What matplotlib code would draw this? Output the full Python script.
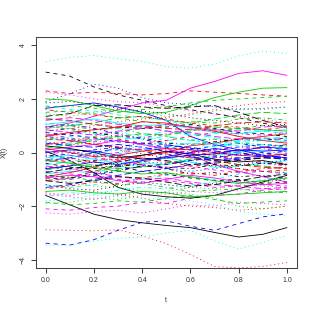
import matplotlib
matplotlib.use("Agg")
import matplotlib.pyplot as plt
import numpy as np

# grid of t values the curves were read at
t = [0.0, 0.1, 0.2, 0.3, 0.4, 0.5, 0.6, 0.7, 0.8, 0.9, 1.0]

# X(t) for each curve, in matplot column order (colour cycles every 6, line type every 5)
curves = [
    [-1.6, -1.95, -2.3, -2.5, -2.62, -2.72, -2.8, -2.98, -3.15, -3.05, -2.8],
    [2.3, 2.2, 2.25, 2.2, 2.15, 2.2, 2.3, 2.25, 2.2, 2.15, 2.1],
    [-1.9, -1.85, -1.7, -1.75, -1.6, -1.45, -1.3, -1.35, -1.2, -1.25, -1.3],
    [0.6, 0.5, 0.3, 0.2, 0.05, -0.1, -0.2, -0.15, -0.25, -0.1, -0.05],
    [0.2, 0.35, 0.5, 0.45, 0.6, 0.8, 0.7, 0.55, 0.4, 0.5, 0.6],
    [0.95, 1.1, 1.35, 1.6, 1.85, 1.95, 2.4, 2.65, 2.95, 3.05, 2.88],
    [3.0, 2.85, 2.45, 2.15, 1.95, 1.75, 1.6, 1.45, 1.3, 1.1, 0.9],
    [-2.88, -2.9, -2.92, -2.88, -3.1, -3.4, -3.8, -4.25, -4.3, -4.25, -4.1],
    [1.1, 1.0, 0.85, 0.9, 0.7, 0.6, 0.45, 0.5, 0.35, 0.3, 0.2],
    [-0.3, -0.2, 0.0, 0.15, 0.1, 0.25, 0.2, 0.05, 0.0, -0.15, -0.2],
    [-0.8, -0.7, -0.75, -0.55, -0.4, -0.45, -0.3, -0.1, 0.0, 0.1, 0.05],
    [-2.1, -2.15, -2.05, -2.0, -1.85, -1.9, -1.7, -1.6, -1.55, -1.4, -1.35],
    [0.4, 0.3, 0.35, 0.1, -0.05, -0.2, -0.35, -0.5, -0.6, -0.7, -0.75],
    [-0.6, -0.45, -0.3, -0.25, -0.15, 0.0, 0.05, -0.1, -0.2, -0.35, -0.4],
    [0.9, 1.0, 1.1, 1.3, 1.35, 1.2, 1.1, 1.25, 1.4, 1.5, 1.45],
    [1.65, 1.75, 1.85, 1.7, 1.5, 1.2, 0.6, 0.3, 0.1, -0.1, -0.2],
    [-1.2, -1.3, -1.2, -1.05, -1.0, -0.85, -0.9, -1.0, -0.8, -0.7, -0.75],
    [2.25, 2.15, 2.0, 1.9, 1.85, 1.7, 1.55, 1.45, 1.35, 1.25, 1.1],
    [-0.1, -0.2, -0.35, -0.5, -0.45, -0.6, -0.8, -0.75, -0.9, -0.85, -0.95],
    [-1.05, -0.95, -0.7, -0.5, -0.35, -0.2, -0.1, -0.05, 0.1, 0.2, 0.3],
    [2.0, 1.95, 1.75, 1.55, 1.45, 1.5, 1.75, 2.05, 2.25, 2.4, 2.42],
    [-3.38, -3.45, -3.25, -2.9, -2.6, -2.55, -2.75, -2.9, -2.65, -2.4, -2.28],
    [3.38, 3.55, 3.62, 3.5, 3.4, 3.2, 3.15, 3.3, 3.6, 3.78, 3.7],
    [0.7, 0.55, 0.4, 0.45, 0.3, 0.1, 0.0, -0.15, -0.3, -0.4, -0.5],
    [1.35, 1.45, 1.75, 1.78, 1.7, 1.65, 1.7, 1.75, 1.5, 1.2, 0.95],
    [-0.9, -0.75, -0.55, -0.3, -0.1, 0.0, 0.25, 0.35, 0.5, 0.6, 0.7],
    [-1.85, -1.95, -1.9, -1.8, -1.85, -1.7, -1.6, -1.75, -1.9, -1.85, -1.8],
    [1.9, 2.2, 2.55, 2.4, 2.05, 1.85, 1.8, 1.7, 1.6, 1.65, 1.7],
    [1.0, 0.85, 0.7, 0.75, 0.6, 0.45, 0.5, 0.35, 0.25, 0.3, 0.15],
    [-0.5, -0.6, -0.75, -0.9, -1.0, -0.95, -1.1, -1.2, -1.25, -1.35, -1.3],
    [0.05, -0.3, -0.75, -1.3, -1.55, -1.65, -1.7, -1.6, -1.35, -1.1, -0.85],
    [0.3, 0.4, 0.55, 0.5, 0.35, 0.45, 0.6, 0.75, 0.9, 0.85, 0.95],
    [-1.0, -1.1, -1.25, -1.3, -1.45, -1.5, -1.55, -1.7, -2.0, -2.1, -2.0],
    [-0.15, -0.05, 0.1, 0.2, 0.35, 0.3, 0.15, 0.1, 0.2, 0.3, 0.25],
    [1.3, 1.15, 1.05, 0.9, 0.95, 0.8, 0.65, 0.7, 0.85, 0.8, 0.7],
    [0.1, 0.2, 0.3, 0.45, 0.3, 0.15, -0.1, -0.45, -0.7, -0.9, -1.1],
    [-0.4, -0.55, -0.6, -0.5, -0.7, -0.8, -0.95, -1.05, -1.0, -1.15, -1.1],
    [-1.5, -1.6, -1.45, -1.55, -1.7, -1.9, -2.0, -2.05, -2.15, -2.1, -2.0],
    [0.55, 0.45, 0.6, 0.75, 0.9, 1.0, 1.15, 1.1, 1.25, 1.3, 1.2],
    [-1.3, -1.2, -1.0, -0.85, -0.7, -0.6, -0.45, -0.35, -0.25, -0.2, -0.1],
    [-0.2, -0.1, -0.25, -0.4, -0.3, -0.2, -0.35, -0.55, -0.5, -0.4, -0.3],
    [-0.7, -0.8, -0.85, -1.0, -1.1, -1.05, -1.15, -1.3, -1.25, -1.2, -1.25],
    [-1.2, -1.35, -1.4, -1.25, -1.1, -1.2, -1.3, -1.15, -1.05, -1.1, -1.0],
    [1.6, 1.5, 1.4, 1.3, 1.35, 1.25, 1.1, 1.0, 0.95, 0.85, 0.8],
    [-0.65, -0.5, -0.45, -0.6, -0.55, -0.4, -0.25, -0.3, -0.45, -0.5, -0.6],
    [0.0, 0.1, 0.05, -0.1, -0.25, -0.2, -0.1, -0.05, 0.1, 0.05, 0.1],
    [1.75, 1.6, 1.55, 1.4, 1.3, 1.2, 1.0, 0.85, 0.6, 0.5, 0.4],
    [-2.25, -2.3, -2.2, -2.15, -2.25, -2.1, -1.95, -2.0, -1.85, -1.9, -1.95],
    [0.8, 0.9, 0.75, 0.6, 0.55, 0.35, 0.3, 0.4, 0.5, 0.45, 0.55],
    [0.5, 0.45, 0.3, 0.2, 0.1, -0.05, -0.2, -0.3, -0.45, -0.55, -0.6],
    [-1.45, -1.4, -1.5, -1.55, -1.45, -1.5, -1.65, -1.6, -1.55, -1.5, -1.45],
    [-0.95, -1.0, -0.85, -0.7, -0.5, -0.45, -0.3, -0.2, -0.05, 0.0, -0.1],
    [-3.45, -3.45, -3.3, -3.2, -3.15, -3.0, -2.9, -3.3, -3.6, -3.35, -3.1],
    [-0.35, -0.25, -0.1, 0.0, 0.15, 0.05, -0.05, 0.1, 0.2, 0.15, 0.0],
    [-0.75, -0.6, -0.5, -0.35, -0.2, -0.3, -0.45, -0.4, -0.3, -0.2, -0.25],
    [0.15, 0.0, -0.15, -0.1, 0.05, 0.15, 0.1, 0.0, -0.1, -0.15, -0.05],
    [1.5, 1.55, 1.45, 1.3, 1.15, 1.05, 0.95, 0.85, 0.9, 1.0, 0.95],
    [-0.55, -0.65, -0.5, -0.4, -0.45, -0.6, -0.7, -0.6, -0.45, -0.35, -0.3],
    [-1.65, -1.5, -1.55, -1.4, -1.3, -1.35, -1.2, -1.1, -1.15, -1.0, -0.95],
    [1.2, 1.3, 1.2, 1.05, 0.95, 0.8, 0.75, 0.6, 0.5, 0.55, 0.45],
    [0.25, 0.15, 0.0, -0.2, -0.1, 0.05, -0.05, -0.25, -0.35, -0.3, -0.45],
    [-0.25, -0.35, -0.3, -0.15, -0.2, -0.35, -0.5, -0.45, -0.6, -0.7, -0.65],
    [1.45, 1.35, 1.5, 1.6, 1.5, 1.35, 1.4, 1.55, 1.65, 1.6, 1.7],
    [0.95, 1.05, 0.9, 0.7, 0.5, 0.3, 0.15, 0.0, -0.1, -0.05, 0.05],
    [-0.45, -0.35, -0.2, -0.05, 0.1, 0.2, 0.35, 0.3, 0.45, 0.55, 0.5],
    [-0.95, -0.85, -0.9, -1.05, -1.15, -1.0, -0.85, -0.95, -1.1, -1.2, -1.15],
    [0.65, 0.7, 0.85, 0.95, 0.9, 0.95, 1.05, 0.9, 0.75, 0.7, 0.6],
    [0.95, 0.9, 1.0, 1.15, 1.25, 1.3, 1.45, 1.6, 1.75, 1.85, 1.9],
    [-0.85, -0.9, -1.05, -1.2, -1.15, -1.3, -1.45, -1.4, -1.35, -1.45, -1.5],
    [0.35, 0.25, 0.2, 0.3, 0.2, 0.05, -0.15, -0.3, -0.2, -0.15, -0.25],
    [1.05, 1.15, 1.25, 1.1, 1.0, 1.05, 0.9, 0.75, 0.7, 0.8, 0.85],
    [0.05, -0.1, -0.2, -0.3, -0.45, -0.55, -0.5, -0.65, -0.75, -0.7, -0.8],
    [1.85, 1.9, 1.8, 1.65, 1.55, 1.45, 1.3, 1.2, 1.1, 1.0, 1.05],
    [-1.35, -1.25, -1.1, -1.15, -0.95, -0.8, -0.75, -0.85, -0.7, -0.6, -0.55],
    [0.15, 0.3, 0.45, 0.6, 0.7, 0.65, 0.8, 0.95, 0.9, 0.85, 0.8],
    [-0.6, -0.5, -0.35, -0.45, -0.3, -0.15, 0.0, 0.15, 0.05, 0.2, 0.15],
    [0.45, 0.6, 0.7, 0.55, 0.5, 0.6, 0.45, 0.35, 0.2, 0.3, 0.25],
    [-1.55, -1.65, -1.75, -1.6, -1.5, -1.55, -1.45, -1.5, -1.4, -1.35, -1.4],
    [-0.85, -0.95, -0.8, -0.65, -0.5, -0.55, -0.6, -0.45, -0.5, -0.4, -0.45],
    [1.25, 1.2, 1.05, 0.95, 1.0, 0.9, 0.85, 1.0, 1.1, 1.15, 1.1],
    [-0.3, -0.4, -0.55, -0.7, -0.8, -0.75, -0.9, -1.05, -1.15, -1.05, -0.95],
    [0.75, 0.65, 0.55, 0.4, 0.35, 0.2, 0.1, 0.25, 0.35, 0.2, 0.1],
    [-1.8, -1.75, -1.6, -1.65, -1.7, -1.75, -1.8, -1.95, -2.2, -2.3, -2.35],
    [0.3, 0.4, 0.5, 0.65, 0.55, 0.7, 0.85, 0.8, 0.7, 0.65, 0.75],
    [-1.05, -1.15, -1.05, -0.9, -0.95, -1.1, -1.25, -1.2, -1.05, -0.9, -0.8],
    [0.6, 0.75, 0.85, 0.95, 1.15, 1.1, 0.95, 0.8, 0.6, 0.45, 0.35],
    [1.7, 1.75, 1.65, 1.5, 1.6, 1.7, 1.85, 1.95, 2.0, 2.05, 2.1],
    [-0.05, 0.05, -0.1, -0.2, -0.35, -0.4, -0.3, -0.2, -0.05, -0.1, -0.2],
    [-0.25, -0.15, -0.05, 0.1, 0.25, 0.4, 0.3, 0.2, 0.35, 0.45, 0.4],
    [0.85, 0.75, 0.65, 0.8, 0.9, 1.05, 0.95, 0.85, 0.8, 0.95, 1.0],
]

x_ticks = [0.0, 0.2, 0.4, 0.6, 0.8, 1.0]
y_ticks = [-4, -2, 0, 2, 4]

# R palette 1:6 and lty 1:5 (dash lengths in px, 1 px = 0.72 pt)
cols = ['black', '#FF0000', '#00CD00', '#0000FF', '#00FFFF', '#FF00FF']
px = 0.72
ltys = ['-', (0, (4 * px, 4 * px)), (0, (1 * px, 3 * px)),
        (0, (1 * px, 3 * px, 4 * px, 3 * px)), (0, (7 * px, 3 * px))]

plt.rcParams['font.family'] = ['Liberation Sans', 'DejaVu Sans']
plt.rcParams['lines.scale_dashes'] = False

fig = plt.figure(figsize=(3.15, 3.15), dpi=100)
ax = fig.add_axes([0.1143, 0.148, 0.827, 0.7355])

for i, y in enumerate(curves):
    ax.plot(t, y, color=cols[i % 6], linestyle=ltys[i % 5], lw=0.6)

ax.set_xlim(-0.04, 1.04)
ax.set_ylim(-4.32, 4.32)
ax.set_xticks(x_ticks)
ax.set_xticklabels(['%.1f' % v for v in x_ticks])
ax.set_yticks(y_ticks)
ax.set_yticklabels([str(v).replace('-', '\u2212') for v in y_ticks], rotation=90, va='center')

axis_col = '#444444'
for s in ax.spines.values():
    s.set_color(axis_col)
    s.set_linewidth(0.75)
ax.tick_params(colors=axis_col, labelcolor='#333333', labelsize=5, length=3.5, width=0.75, pad=3)

ax.set_xlabel('t', fontsize=5, color='#333333', labelpad=9)
ax.set_ylabel('X(t)', fontsize=5, color='#333333', labelpad=9)

fig.savefig('out.png', dpi=100)
